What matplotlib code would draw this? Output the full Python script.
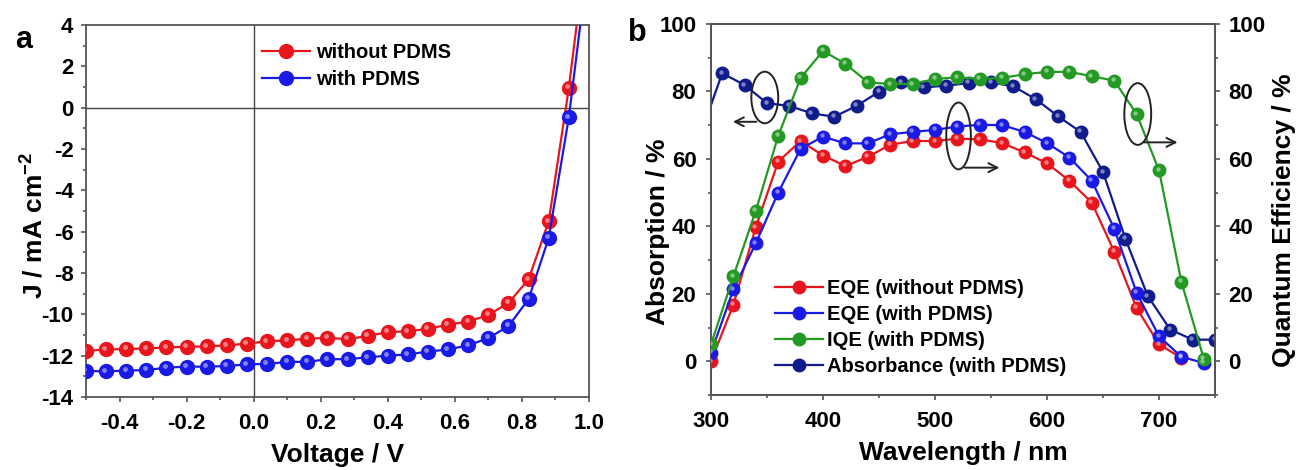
import matplotlib
matplotlib.use("Agg")
import matplotlib.pyplot as plt
from matplotlib.patches import Ellipse
from matplotlib.transforms import offset_copy

# ====== data: panel a (J-V) ======
voltage = [-0.50, -0.44, -0.38, -0.32, -0.26, -0.20, -0.14, -0.08, -0.02, 0.04,
           0.10, 0.16, 0.22, 0.28, 0.34, 0.40, 0.46, 0.52, 0.58, 0.64,
           0.70, 0.76, 0.82, 0.88, 0.94, 1.00]
j_without = [-11.77, -11.70, -11.68, -11.65, -11.60, -11.57, -11.55, -11.50, -11.42, -11.30,
             -11.26, -11.18, -11.14, -11.20, -11.05, -10.86, -10.82, -10.70, -10.50, -10.35,
             -10.03, -9.45, -8.30, -5.50, 0.96, 8.8]
j_with = [-12.74, -12.76, -12.72, -12.70, -12.58, -12.53, -12.53, -12.50, -12.42, -12.40,
          -12.30, -12.30, -12.17, -12.17, -12.08, -12.00, -11.94, -11.80, -11.70, -11.50,
          -11.15, -10.57, -9.26, -6.30, -0.47, 7.4]

# ====== data: panel b (EQE / IQE / absorbance) ======
wl_qe = [300, 320, 340, 360, 380, 400, 420, 440, 460, 480, 500, 520,
         540, 560, 580, 600, 620, 640, 660, 680, 700, 720, 740]
eqe_without = [0.0, 16.8, 39.8, 59.2, 65.3, 61.0, 57.9, 60.6, 64.2, 65.3, 65.3, 66.0,
               65.8, 64.7, 61.9, 58.7, 53.5, 47.0, 32.5, 15.8, 5.0, 1.0, None]
eqe_with = [2.5, 21.3, 35.0, 50.0, 63.0, 66.6, 64.6, 64.6, 67.3, 68.0, 68.6, 69.6,
            70.1, 70.0, 68.0, 64.7, 60.4, 53.5, 39.3, 20.3, 7.4, 1.3, -0.5]
iqe_with = [5.0, 25.2, 44.6, 66.8, 84.0, 92.0, 88.2, 82.7, 82.2, 82.2, 83.7, 84.2,
            83.7, 84.0, 85.1, 85.8, 85.8, 84.5, 83.2, 73.3, 56.6, 23.5, 0.7]
wl_abs = [300, 310, 330, 350, 370, 390, 410, 430, 450, 470, 490, 510,
          530, 550, 570, 590, 610, 630, 650, 670, 690, 710, 730, 750]
absorbance = [76.0, 85.4, 81.9, 76.5, 75.7, 73.5, 72.5, 75.7, 79.9, 82.7, 81.2, 81.7,
              82.5, 82.7, 81.5, 77.7, 72.6, 68.0, 56.1, 36.3, 19.3, 9.4, 6.4, 6.4]

RED = "#e8161c"
BLUE = "#1a1ae6"
GREEN = "#239a23"
NAVY = "#101c8c"

plt.rcParams["font.family"] = ["Liberation Sans", "DejaVu Sans"]
plt.rcParams["font.weight"] = "bold"
plt.rcParams["axes.labelweight"] = "bold"
plt.rcParams["axes.unicode_minus"] = False
plt.rcParams["mathtext.fontset"] = "custom"
plt.rcParams["mathtext.bf"] = "Liberation Sans:bold"
plt.rcParams["mathtext.rm"] = "Liberation Sans:bold"
plt.rcParams["mathtext.default"] = "bf"


def ball_line(ax, x, y, color, label=None, ms=10, markevery=None):
    """线 + 带高光的小球标记"""
    xs = [a for a, b in zip(x, y) if b is not None]
    ys = [b for b in y if b is not None]
    line, = ax.plot(xs, ys, "-o", color=color, lw=1.6, ms=ms, mec=color,
                    markevery=markevery, label=label, zorder=3)
    hl = offset_copy(ax.transData, fig=ax.figure, x=-ms * 0.12, y=ms * 0.12, units="points")
    ax.plot(xs, ys, "o", color="white", alpha=0.45, ms=ms * 0.35, mew=0,
            markevery=markevery, transform=hl, zorder=4)
    return line


def style_axis(ax, ypad=5.5):
    for sp in ax.spines.values():
        sp.set_color("#555555")
        sp.set_linewidth(1.3)
    ax.tick_params(which="both", direction="out", color="#555555", labelsize=16, width=1.2)
    ax.tick_params(which="major", length=3.5)
    ax.tick_params(which="minor", length=2)
    ax.tick_params(axis="x", pad=8)
    ax.tick_params(axis="y", pad=ypad)


fig = plt.figure(figsize=(12.97, 4.70), dpi=100)

# ---------------- panel a ----------------
ax1 = fig.add_axes([0.0663, 0.1553, 0.3878, 0.7915])
ax1.axhline(0, color="#444444", lw=1.0, zorder=1)
ax1.axvline(0, color="#444444", lw=1.0, zorder=1)
n = len(voltage)
ball_line(ax1, voltage, j_without, RED, "without PDMS", ms=10, markevery=list(range(n - 1)))
ball_line(ax1, voltage, j_with, BLUE, "with PDMS", ms=10, markevery=list(range(n - 1)))
ax1.set_xlim(-0.5, 1.0)
ax1.set_ylim(-14, 4)
ax1.set_xticks([-0.4, -0.2, 0.0, 0.2, 0.4, 0.6, 0.8, 1.0])
ax1.set_xticklabels(["-0.4", "-0.2", "0.0", "0.2", "0.4", "0.6", "0.8", "1.0"])
ax1.set_xticks([-0.5, -0.3, -0.1, 0.1, 0.3, 0.5, 0.7, 0.9], minor=True)
ax1.set_yticks(range(-14, 5, 2))
ax1.set_yticks(range(-13, 4, 2), minor=True)
style_axis(ax1)
ax1.set_xlabel("Voltage / V", fontsize=19)
ax1.set_ylabel(r"J / mA cm$^{-2}$", fontsize=19)
ax1.xaxis.set_label_coords(0.5, -0.124)
ax1.yaxis.set_label_coords(-0.0755, 0.46)
ax1.legend(loc="upper left", bbox_to_anchor=(0.334, 0.974), frameon=False,
           handlelength=2.4, handletextpad=0.3, borderaxespad=0.0, labelspacing=0.4,
           prop={"weight": "bold", "size": 14.5})
fig.text(0.0116, 0.915, "a", fontsize=22, fontweight="bold", va="center")

# ---------------- panel b ----------------
ax2 = fig.add_axes([0.5482, 0.1596, 0.3886, 0.7894])
ax3 = ax2.twinx()
h_abs = ball_line(ax2, wl_abs, absorbance, NAVY, "Absorbance (with PDMS)", ms=9,
                  markevery=list(range(1, len(wl_abs))))
h_red = ball_line(ax3, wl_qe, eqe_without, RED, "EQE (without PDMS)", ms=9)
h_blue = ball_line(ax3, wl_qe, eqe_with, BLUE, "EQE (with PDMS)", ms=9)
h_green = ball_line(ax3, wl_qe, iqe_with, GREEN, "IQE (with PDMS)", ms=9)
for ax in (ax2, ax3):
    ax.set_xlim(300, 750)
    ax.set_ylim(-10, 100)
    ax.set_yticks(range(0, 101, 20))
    ax.set_yticks(range(-10, 100, 20), minor=True)
style_axis(ax2, ypad=7)
style_axis(ax3, ypad=6)
ax2.set_xticks([300, 400, 500, 600, 700])
ax2.set_xticks([350, 450, 550, 650, 750], minor=True)
ax2.set_xlabel("Wavelength / nm", fontsize=19)
ax2.set_ylabel("Absorption / %", fontsize=19)
ax3.set_ylabel("Quantum Efficiency / %", fontsize=19)
ax2.xaxis.set_label_coords(0.5, -0.124)
ax2.yaxis.set_label_coords(-0.081, 0.44)
ax3.yaxis.set_label_coords(1.113, 0.47)

# 椭圆 + 箭头 标注哪条曲线对应哪个轴
for cx, cy, w, h, x0, x1, ya in [(348, 78.2, 24, 15.3, 343, 317, 71.0),
                                 (521, 66.8, 22, 19.8, 524, 560, 57.4),
                                 (681, 73.3, 24, 18.3, 684, 719, 64.9)]:
    ax3.add_patch(Ellipse((cx, cy), w, h, fill=False, ec="#222222", lw=1.4, zorder=5))
    ax3.annotate("", xy=(x1, ya), xytext=(x0, ya),
                 arrowprops=dict(arrowstyle="->", color="#222222", lw=1.4, mutation_scale=16),
                 zorder=5)

ax3.legend(handles=[h_red, h_blue, h_green, h_abs], loc="upper left",
           bbox_to_anchor=(0.11, 0.335), frameon=False,
           prop={"weight": "bold", "size": 14.5},
           handlelength=2.4, handletextpad=0.2, labelspacing=0.35, borderaxespad=0.0)
fig.text(0.4842, 0.93, "b", fontsize=22, fontweight="bold", va="center")

fig.savefig("out.png", dpi=100)
